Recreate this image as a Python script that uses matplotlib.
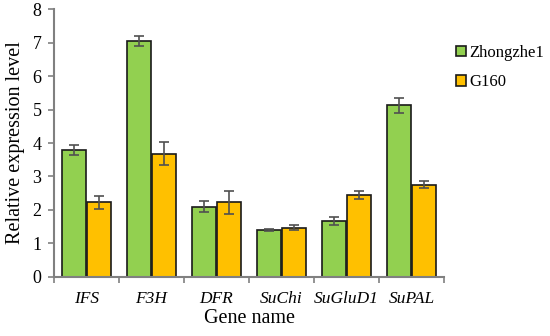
import matplotlib
matplotlib.use("Agg")
import matplotlib.pyplot as plt
import numpy as np
from matplotlib.ticker import FixedLocator

genes = ["IFS", "F3H", "DFR", "SuChi", "SuGluD1", "SuPAL"]
zhong = [3.80, 7.05, 2.10, 1.40, 1.67, 5.13]
zhong_err = [0.15, 0.15, 0.15, 0.03, 0.12, 0.23]
g160 = [2.22, 3.68, 2.22, 1.47, 2.45, 2.75]
g160_err = [0.20, 0.35, 0.33, 0.08, 0.12, 0.10]

plt.rcParams['font.family'] = ['Liberation Serif', 'DejaVu Serif']

fig = plt.figure(figsize=(5.5, 3.36), dpi=100)
ax = fig.add_axes([54/550, 1-276.7/336, 390/550, (276.7-9.3)/336])

x = np.arange(len(genes))
w = 0.37
green = "#92D050"
orange = "#FFC000"
ekw = dict(ecolor="#505050", elinewidth=1.2, capsize=3.5, capthick=1.2)
ax.bar(x - w/2 - 0.005, zhong, w, yerr=zhong_err, color=green, edgecolor="#1a1a1a",
       linewidth=1.2, label="Zhongzhe1", error_kw=ekw, zorder=2)
ax.bar(x + w/2 + 0.005, g160, w, yerr=g160_err, color=orange, edgecolor="#1a1a1a",
       linewidth=1.2, label="G160", error_kw=ekw, zorder=2)

ax.set_xlim(-0.5, len(genes) - 0.5)
ax.set_ylim(0, 8)
ax.set_yticks(range(0, 9))
ax.set_xticks(x)
ax.set_xticklabels(genes, fontstyle="italic", fontsize=12.5)
ax.xaxis.set_minor_locator(FixedLocator(np.arange(-0.5, len(genes), 1.0)))
ax.tick_params(axis="x", which="major", length=0, pad=10)
ax.tick_params(axis="x", which="minor", length=4, width=1.2, color="#808080", direction="out")
ax.tick_params(axis="y", length=4, width=1.2, color="#808080", direction="out", labelsize=13, pad=5)

for s in ["top", "right"]:
    ax.spines[s].set_visible(False)
for s in ["left", "bottom"]:
    ax.spines[s].set_color("#808080")
    ax.spines[s].set_linewidth(1.5)

ax.set_xlabel("Gene name", fontsize=14.5, labelpad=2)
ax.set_ylabel("Relative expression level", fontsize=14.5, labelpad=5)

leg = ax.legend(loc="upper left", bbox_to_anchor=(456/550, 1 - 45/336), bbox_transform=fig.transFigure,
                frameon=False, fontsize=12, handlelength=0.6, handleheight=0.6,
                handletextpad=0.2, labelspacing=0.8, borderaxespad=0, borderpad=0)

fig.savefig("out.png", dpi=100)
